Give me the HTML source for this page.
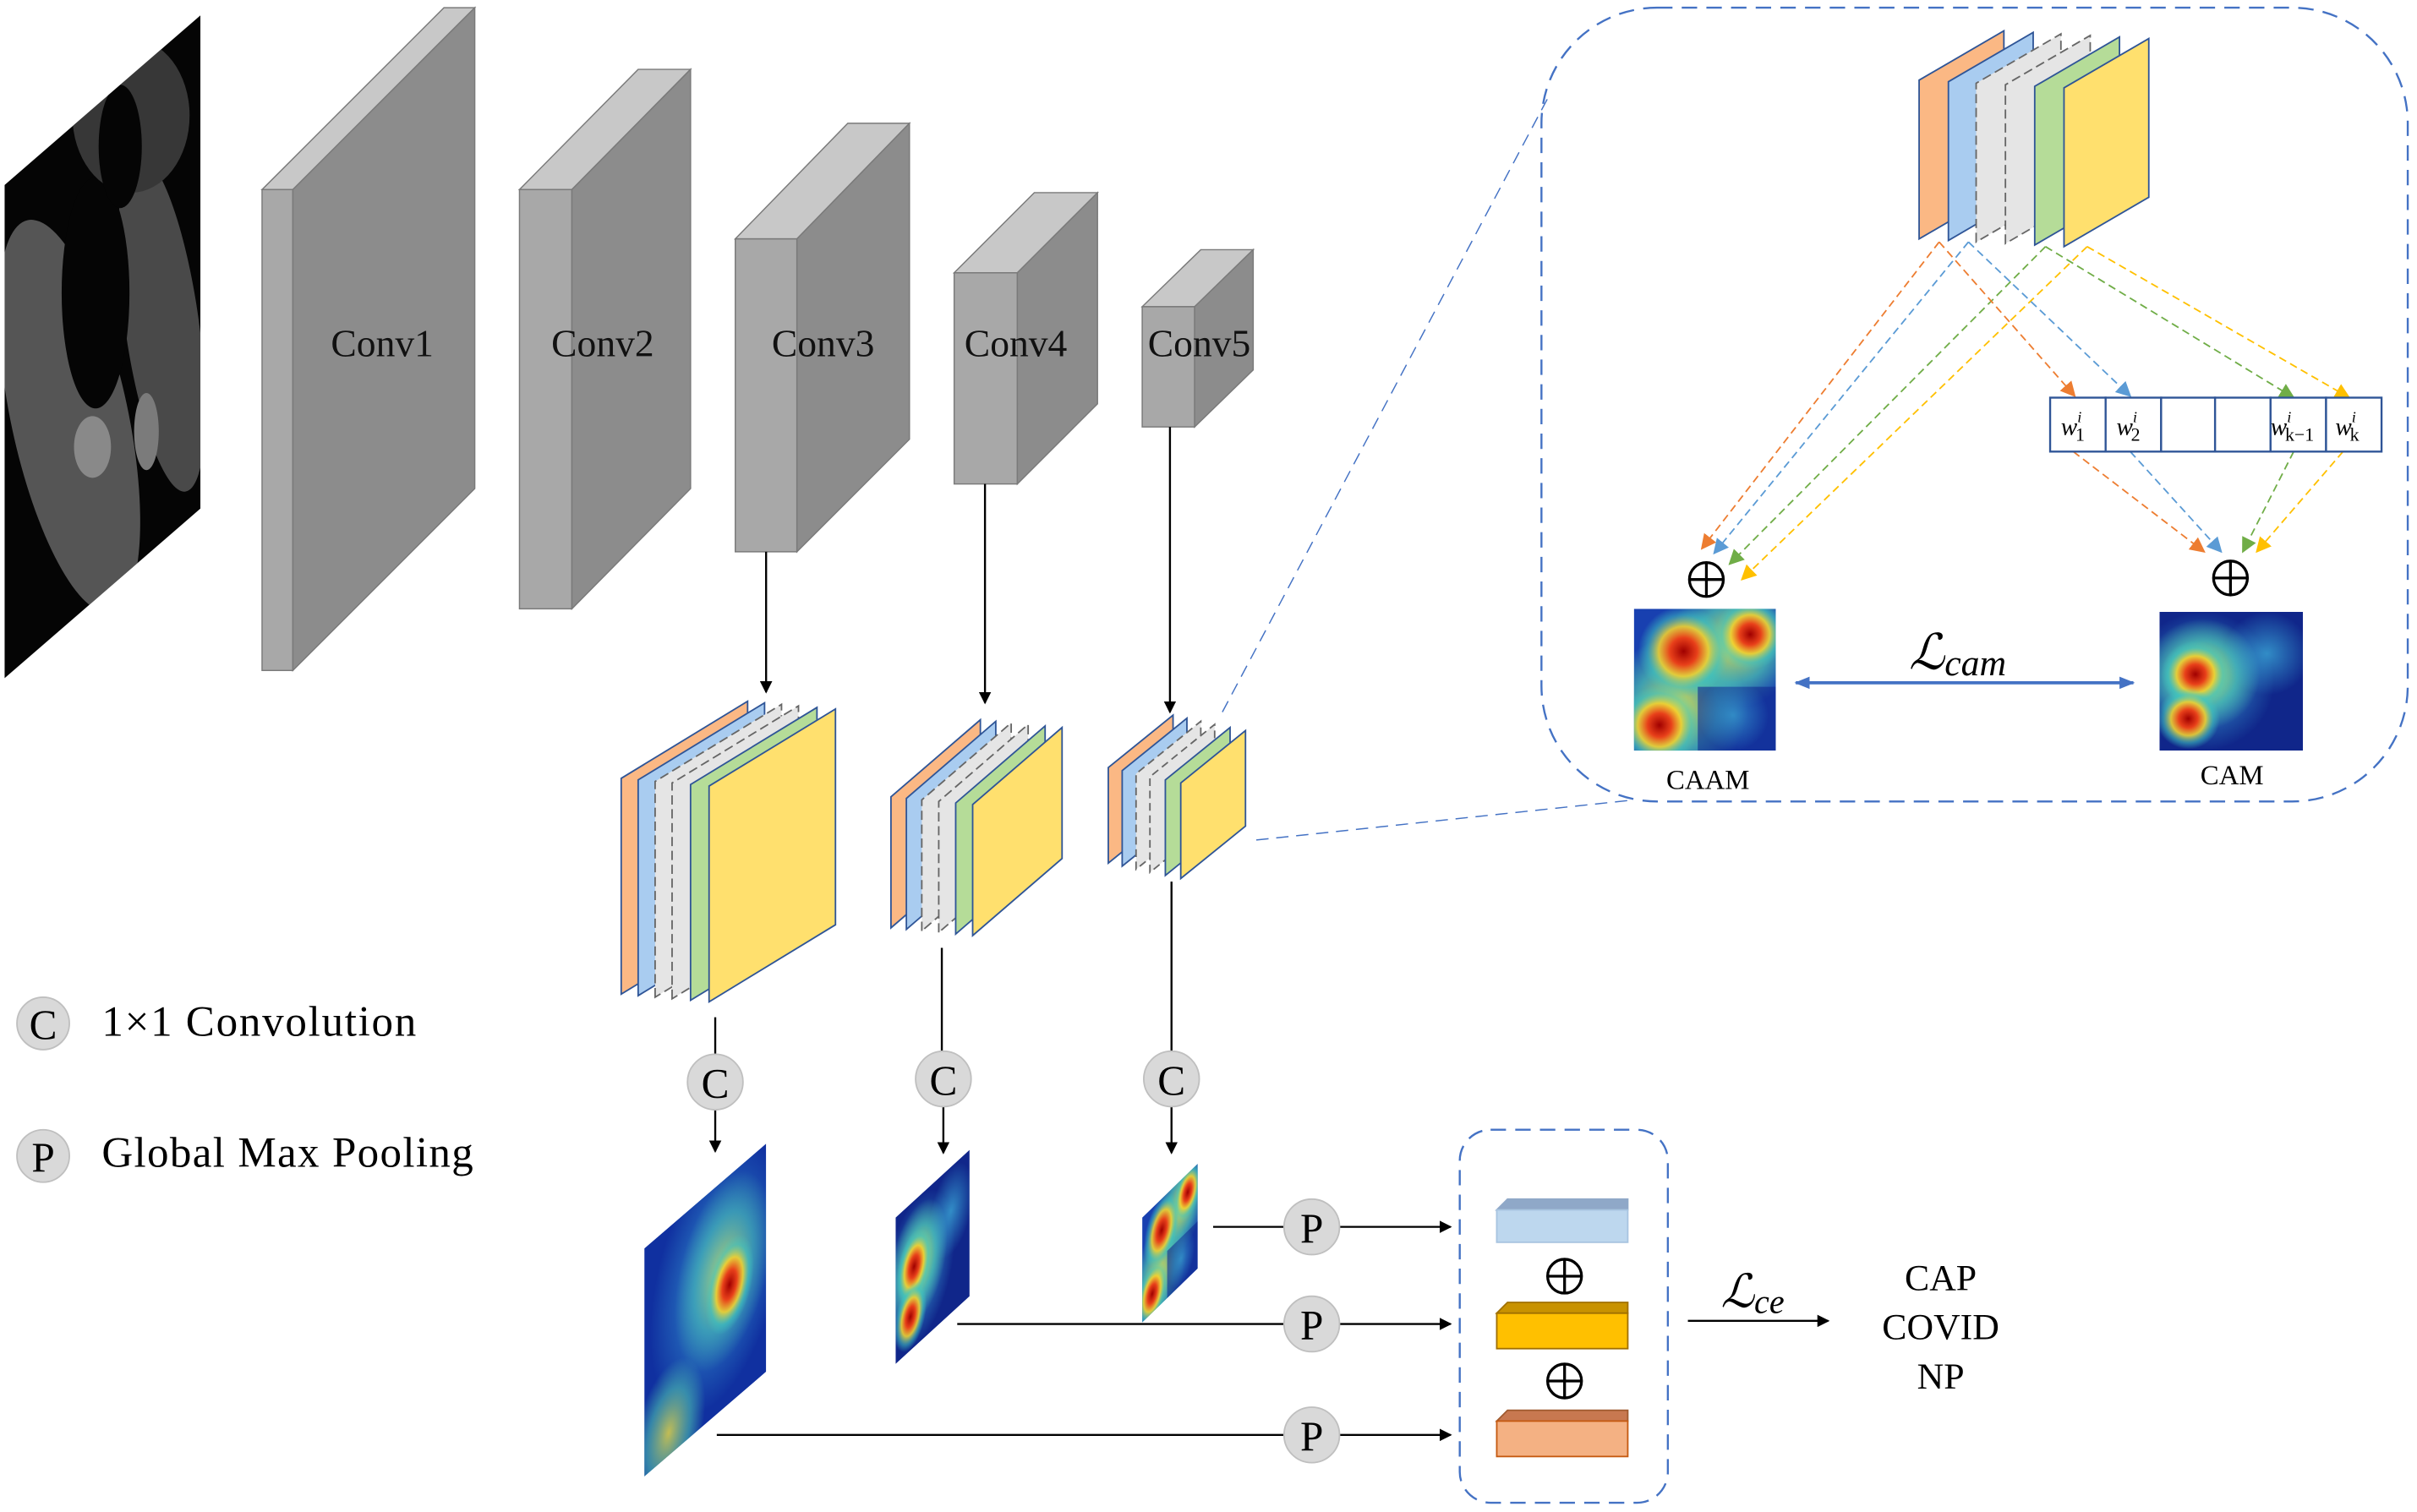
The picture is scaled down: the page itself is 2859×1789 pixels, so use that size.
<!DOCTYPE html>
<html><head><meta charset="utf-8"><style>html,body{margin:0;padding:0;background:#fff}svg{display:block}</style></head>
<body>
<svg width="2859" height="1789" viewBox="0 0 1568 981" preserveAspectRatio="none" xmlns="http://www.w3.org/2000/svg" font-family="Liberation Serif, serif">
<defs>
<clipPath id="u"><rect width="100" height="100"/></clipPath>
<clipPath id="ct"><polygon points="3,120 130,10 130,330 3,440"/></clipPath>
<radialGradient id="hot"><stop offset="0" stop-color="#a00000"/><stop offset="0.3" stop-color="#e8401a"/><stop offset="0.55" stop-color="#f0d030" stop-opacity="0.9"/><stop offset="0.8" stop-color="#40c8c0" stop-opacity="0.5"/><stop offset="1" stop-color="#40c8c0" stop-opacity="0"/></radialGradient>
<radialGradient id="warm"><stop offset="0" stop-color="#f0e040"/><stop offset="0.6" stop-color="#50c8b0" stop-opacity="0.7"/><stop offset="1" stop-color="#50c8b0" stop-opacity="0"/></radialGradient>
<radialGradient id="cy"><stop offset="0" stop-color="#40b8e0"/><stop offset="1" stop-color="#40b8e0" stop-opacity="0"/></radialGradient>
<g id="hmA" clip-path="url(#u)"><rect width="100" height="100" fill="#1840b0"/><circle cx="30" cy="70" r="50" fill="url(#warm)"/><circle cx="70" cy="25" r="45" fill="url(#warm)"/><circle cx="35" cy="30" r="32" fill="url(#hot)"/><circle cx="82" cy="18" r="25" fill="url(#hot)"/><circle cx="18" cy="82" r="28" fill="url(#hot)"/><rect x="45" y="55" width="55" height="45" fill="#102a90" opacity="0.6"/><circle cx="70" cy="75" r="25" fill="url(#cy)" opacity="0.6"/></g>
<g id="hmB" clip-path="url(#u)"><rect width="100" height="100" fill="#10268a"/><circle cx="30" cy="50" r="50" fill="url(#cy)" opacity="0.9"/><circle cx="30" cy="45" r="40" fill="url(#warm)"/><circle cx="25" cy="45" r="24" fill="url(#hot)"/><circle cx="20" cy="77" r="22" fill="url(#hot)"/><circle cx="75" cy="30" r="30" fill="url(#cy)" opacity="0.7"/></g>
<g id="hmC" clip-path="url(#u)"><rect width="100" height="100" fill="#1030a0"/><circle cx="60" cy="40" r="55" fill="url(#cy)" opacity="0.8"/><circle cx="65" cy="40" r="40" fill="url(#warm)" opacity="0.7"/><circle cx="70" cy="48" r="20" fill="url(#hot)"/><circle cx="20" cy="90" r="30" fill="url(#warm)" opacity="0.8"/></g>
<g id="op"><circle r="11" fill="none" stroke="#000" stroke-width="1.8"/><line x1="-11" y1="0" x2="11" y2="0" stroke="#000" stroke-width="1.8"/><line x1="0" y1="-11" x2="0" y2="11" stroke="#000" stroke-width="1.8"/></g>
<marker id="ak" markerWidth="8" markerHeight="8" refX="7" refY="4" orient="auto" markerUnits="userSpaceOnUse"><path d="M0,0 L8,4 L0,8z" fill="#000"/></marker>
<marker id="ab" markerWidth="10" markerHeight="8" refX="9" refY="4" orient="auto-start-reverse" markerUnits="userSpaceOnUse"><path d="M0,0 L10,4 L0,8z" fill="#4472c4"/></marker>
<marker id="ao" markerWidth="10" markerHeight="10" refX="9" refY="5" orient="auto" markerUnits="userSpaceOnUse"><path d="M0,0 L10,5 L0,10z" fill="#ed7d31"/></marker>
<marker id="abl" markerWidth="10" markerHeight="10" refX="9" refY="5" orient="auto" markerUnits="userSpaceOnUse"><path d="M0,0 L10,5 L0,10z" fill="#5b9bd5"/></marker>
<marker id="ag" markerWidth="10" markerHeight="10" refX="9" refY="5" orient="auto" markerUnits="userSpaceOnUse"><path d="M0,0 L10,5 L0,10z" fill="#70ad47"/></marker>
<marker id="ay" markerWidth="10" markerHeight="10" refX="9" refY="5" orient="auto" markerUnits="userSpaceOnUse"><path d="M0,0 L10,5 L0,10z" fill="#ffc000"/></marker>
</defs>

<!-- CT image -->
<polygon points="3,120 130,10 130,330 3,440" fill="#050505"/>
<g clip-path="url(#ct)" opacity="0.8">
<ellipse cx="45" cy="270" rx="38" ry="130" fill="#6a6a6a" transform="rotate(-12 45 270)"/>
<ellipse cx="105" cy="210" rx="24" ry="110" fill="#5a5a5a" transform="rotate(-8 105 210)"/>
<ellipse cx="62" cy="190" rx="22" ry="75" fill="#050505"/>
<ellipse cx="85" cy="75" rx="38" ry="50" fill="#444"/>
<ellipse cx="78" cy="95" rx="14" ry="40" fill="#050505"/>
<ellipse cx="60" cy="290" rx="12" ry="20" fill="#aaa"/>
<ellipse cx="95" cy="280" rx="8" ry="25" fill="#999"/>
</g>

<!-- Conv blocks -->
<g stroke="#7a7a7a" stroke-width="0.8">
<polygon points="170,123 190,123 308,5 288,5" fill="#c8c8c8"/>
<rect x="170" y="123" width="20" height="312" fill="#a8a8a8"/>
<polygon points="190,123 308,5 308,317 190,435" fill="#8c8c8c"/>
<polygon points="337,123 371,123 448,45 414,45" fill="#c8c8c8"/>
<rect x="337" y="123" width="34" height="272" fill="#a8a8a8"/>
<polygon points="371,123 448,45 448,317 371,395" fill="#8c8c8c"/>
<polygon points="477,155 517,155 590,80 550,80" fill="#c8c8c8"/>
<rect x="477" y="155" width="40" height="203" fill="#a8a8a8"/>
<polygon points="517,155 590,80 590,285 517,358" fill="#8c8c8c"/>
<polygon points="619,177 660,177 712,125 671,125" fill="#c8c8c8"/>
<rect x="619" y="177" width="41" height="137" fill="#a8a8a8"/>
<polygon points="660,177 712,125 712,262 660,314" fill="#8c8c8c"/>
<polygon points="741,199 775,199 813,162 779,162" fill="#c8c8c8"/>
<rect x="741" y="199" width="34" height="78" fill="#a8a8a8"/>
<polygon points="775,199 813,162 813,240 775,277" fill="#8c8c8c"/>
</g>
<g font-size="25" fill="#111" text-anchor="middle">
<text x="248" y="231">Conv1</text><text x="391" y="231">Conv2</text><text x="534" y="231">Conv3</text><text x="659" y="231">Conv4</text><text x="778" y="231">Conv5</text>
</g>

<g stroke="#000" stroke-width="1.3" marker-end="url(#ak)">
<line x1="497" y1="358" x2="497" y2="449"/><line x1="639" y1="314" x2="639" y2="456"/><line x1="759" y1="277" x2="759" y2="462"/>
</g>

<!-- stacks -->
<g stroke="#2f5597" stroke-width="1">
<polygon points="403,645 403,505 485,455 485,595" fill="#fbb884"/>
<polygon points="414,646 414,506 496,456 496,596" fill="#a9ccf0"/>
<polygon points="425,647 425,507 507,457 507,597" fill="#e5e5e5" stroke="#666" stroke-dasharray="6,3"/>
<polygon points="436,648 436,508 518,458 518,598" fill="#e5e5e5" stroke="#666" stroke-dasharray="6,3"/>
<polygon points="448,649 448,509 530,459 530,599" fill="#b5dc98"/>
<polygon points="460,650 460,510 542,460 542,600" fill="#ffe06e"/>

<polygon points="578,602 578,517 636,467 636,552" fill="#fbb884"/>
<polygon points="588,603 588,518 646,468 646,553" fill="#a9ccf0"/>
<polygon points="598,604 598,519 656,469 656,554" fill="#e5e5e5" stroke="#666" stroke-dasharray="6,3"/>
<polygon points="609,605 609,520 667,470 667,555" fill="#e5e5e5" stroke="#666" stroke-dasharray="6,3"/>
<polygon points="620,606 620,521 678,471 678,556" fill="#b5dc98"/>
<polygon points="631,607 631,522 689,472 689,557" fill="#ffe06e"/>

<polygon points="719,560 719,498 761,464 761,526" fill="#fbb884"/>
<polygon points="728,562 728,500 770,466 770,528" fill="#a9ccf0"/>
<polygon points="737,564 737,502 779,468 779,530" fill="#e5e5e5" stroke="#666" stroke-dasharray="5,3"/>
<polygon points="746,566 746,504 788,470 788,532" fill="#e5e5e5" stroke="#666" stroke-dasharray="5,3"/>
<polygon points="756,568 756,506 798,472 798,534" fill="#b5dc98"/>
<polygon points="766,570 766,508 808,474 808,536" fill="#ffe06e"/>

<polygon points="1245,155 1245,52 1300,20 1300,123" fill="#fbb884"/>
<polygon points="1264,156 1264,53 1319,21 1319,124" fill="#a9ccf0"/>
<polygon points="1282,157 1282,54 1337,22 1337,125" fill="#e5e5e5" stroke="#666" stroke-dasharray="6,3"/>
<polygon points="1301,158 1301,55 1356,23 1356,126" fill="#e5e5e5" stroke="#666" stroke-dasharray="6,3"/>
<polygon points="1320,159 1320,56 1375,24 1375,127" fill="#b5dc98"/>
<polygon points="1339,160 1339,57 1394,25 1394,128" fill="#ffe06e"/>
</g>

<g stroke="#4472c4" stroke-width="0.8" stroke-dasharray="8,5" fill="none">
<line x1="793" y1="462" x2="1005" y2="62"/><line x1="815" y1="545" x2="1060" y2="519"/>
<rect x="1000" y="5" width="562" height="515" rx="75" stroke-width="1.3" stroke-dasharray="10,6"/>
<rect x="947" y="733" width="135" height="242" rx="20" stroke-width="1.3" stroke-dasharray="10,6"/>
</g>

<g stroke="#000" stroke-width="1.3">
<line x1="464" y1="660" x2="464" y2="685"/><line x1="611" y1="615" x2="611" y2="683"/><line x1="760" y1="572" x2="760" y2="683"/>
<line x1="464" y1="719" x2="464" y2="747" marker-end="url(#ak)"/><line x1="612" y1="717" x2="612" y2="748" marker-end="url(#ak)"/><line x1="760" y1="717" x2="760" y2="748" marker-end="url(#ak)"/>
<line x1="787" y1="796" x2="834" y2="796"/><line x1="621" y1="859" x2="834" y2="859"/><line x1="465" y1="931" x2="834" y2="931"/>
<line x1="868" y1="796" x2="941" y2="796" marker-end="url(#ak)"/><line x1="868" y1="859" x2="941" y2="859" marker-end="url(#ak)"/><line x1="868" y1="931" x2="941" y2="931" marker-end="url(#ak)"/>
<line x1="1095" y1="857" x2="1186" y2="857" marker-end="url(#ak)"/>
</g>

<g fill="#d9d9d9" stroke="#bfbfbf" stroke-width="1">
<circle cx="28" cy="664" r="17"/><circle cx="28" cy="750" r="17"/>
<circle cx="464" cy="702" r="18"/><circle cx="612" cy="700" r="18"/><circle cx="760" cy="700" r="18"/>
<circle cx="851" cy="796" r="18"/><circle cx="851" cy="859" r="18"/><circle cx="851" cy="931" r="18"/>
</g>
<g font-size="27" text-anchor="middle" fill="#000">
<text x="28" y="674">C</text><text x="28" y="760">P</text>
<text x="464" y="712">C</text><text x="612" y="710">C</text><text x="760" y="710">C</text>
<text x="851" y="806">P</text><text x="851" y="869">P</text><text x="851" y="941">P</text>
</g>
<g font-size="28" fill="#000"><text x="66" y="672" textLength="204">1×1 Convolution</text><text x="66" y="757" textLength="241">Global Max Pooling</text></g>

<use href="#hmC" transform="matrix(0.79,-0.68,0,1.48,418,810)"/>
<use href="#hmB" transform="matrix(0.48,-0.44,0,0.95,581,790)"/>
<use href="#hmA" transform="matrix(0.36,-0.35,0,0.68,741,790)"/>

<g stroke-width="1">
<polygon points="971,785 978,778 1056,778 1056,785" fill="#8fa8c8" stroke="#8fa8c8"/>
<rect x="971" y="785" width="85" height="21" fill="#bdd7ee" stroke="#a8c4e0"/>
<polygon points="971,852 978,845 1056,845 1056,852" fill="#c89200" stroke="#a07000"/>
<rect x="971" y="852" width="85" height="23" fill="#ffc000" stroke="#a07000"/>
<polygon points="971,922 978,915 1056,915 1056,922" fill="#c87850" stroke="#a05a30"/>
<rect x="971" y="922" width="85" height="23" fill="#f4b183" stroke="#c55a11"/>
</g>
<use href="#op" transform="translate(1015,828)"/><use href="#op" transform="translate(1015,896)"/>
<text x="1137" y="848" font-size="30" font-style="italic" text-anchor="middle">ℒ<tspan font-size="22" dy="4">ce</tspan></text>
<g font-size="24" text-anchor="middle"><text x="1259" y="837">CAP</text><text x="1259" y="869">COVID</text><text x="1259" y="901">NP</text></g>

<g stroke-width="1" stroke-dasharray="5,3" fill="none">
<line x1="1258" y1="157" x2="1104" y2="356" stroke="#ed7d31" marker-end="url(#ao)"/>
<line x1="1277" y1="157" x2="1112" y2="359" stroke="#5b9bd5" marker-end="url(#abl)"/>
<line x1="1327" y1="160" x2="1122" y2="366" stroke="#70ad47" marker-end="url(#ag)"/>
<line x1="1354" y1="160" x2="1130" y2="376" stroke="#ffc000" marker-end="url(#ay)"/>
<line x1="1258" y1="157" x2="1346" y2="257" stroke="#ed7d31" marker-end="url(#ao)"/>
<line x1="1277" y1="157" x2="1382" y2="257" stroke="#5b9bd5" marker-end="url(#abl)"/>
<line x1="1327" y1="160" x2="1488" y2="258" stroke="#70ad47" marker-end="url(#ag)"/>
<line x1="1354" y1="160" x2="1524" y2="258" stroke="#ffc000" marker-end="url(#ay)"/>
<line x1="1345" y1="293" x2="1430" y2="358" stroke="#ed7d31" marker-end="url(#ao)"/>
<line x1="1382" y1="293" x2="1441" y2="358" stroke="#5b9bd5" marker-end="url(#abl)"/>
<line x1="1488" y1="293" x2="1455" y2="358" stroke="#70ad47" marker-end="url(#ag)"/>
<line x1="1520" y1="293" x2="1464" y2="358" stroke="#ffc000" marker-end="url(#ay)"/>
</g>

<g fill="#fff" stroke="#2f5597" stroke-width="1.3">
<rect x="1330" y="258" width="36" height="35"/><rect x="1366" y="258" width="36" height="35"/><rect x="1402" y="258" width="35" height="35"/><rect x="1437" y="258" width="36" height="35"/><rect x="1473" y="258" width="36" height="35"/><rect x="1509" y="258" width="36" height="35"/>
</g>
<g font-size="16" font-style="italic" fill="#000">
<text x="1337" y="282">w<tspan font-size="10" dy="-8">i</tspan><tspan font-size="12" font-style="normal" dx="-4" dy="12">1</tspan></text>
<text x="1373" y="282">w<tspan font-size="10" dy="-8">i</tspan><tspan font-size="12" font-style="normal" dx="-4" dy="12">2</tspan></text>
<text x="1473" y="282">w<tspan font-size="10" dy="-8">i</tspan><tspan font-size="12" font-style="normal" dx="-4" dy="12">k−1</tspan></text>
<text x="1515" y="282">w<tspan font-size="10" dy="-8">i</tspan><tspan font-size="12" font-style="normal" dx="-4" dy="12">k</tspan></text>
</g>

<use href="#op" transform="translate(1107,376)"/><use href="#op" transform="translate(1447,375)"/>

<use href="#hmA" transform="matrix(0.92,0,0,0.92,1060,395)"/>
<use href="#hmB" transform="matrix(0.93,0,0,0.90,1401,397)"/>
<g font-size="18" text-anchor="middle"><text x="1108" y="512">CAAM</text><text x="1448" y="509">CAM</text></g>
<line x1="1165" y1="443" x2="1384" y2="443" stroke="#4472c4" stroke-width="2" marker-start="url(#ab)" marker-end="url(#ab)"/>
<text x="1270" y="434" font-size="32" font-style="italic" text-anchor="middle">ℒ<tspan font-size="24" dy="4">cam</tspan></text>
</svg>
</body></html>
